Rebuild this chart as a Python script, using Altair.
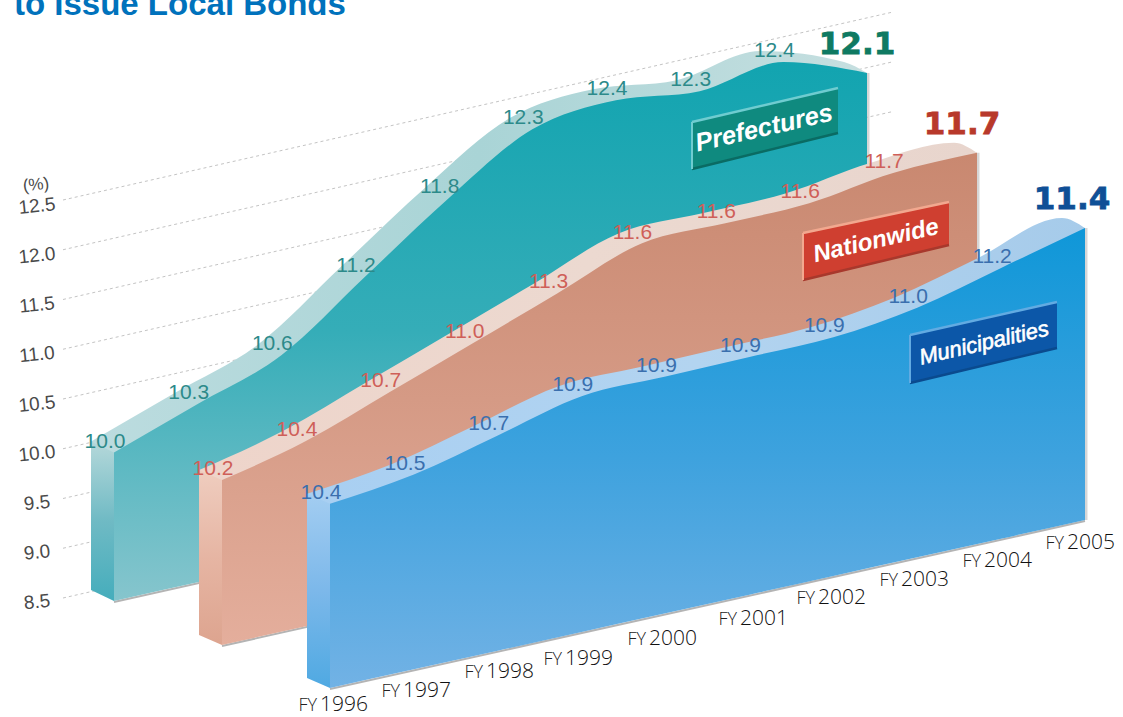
import altair as alt
import pandas as pd

# Fiscal years and the ratio series (%)
years = ["1996", "1997", "1998", "1999", "2000", "2001", "2002", "2003", "2004", "2005"]
prefectures = [10.0, 10.3, 10.6, 11.2, 11.8, 12.3, 12.4, 12.3, 12.4, 12.1]
nationwide = [10.2, 10.4, 10.7, 11.0, 11.3, 11.6, 11.6, 11.6, 11.7, 11.7]
municipalities = [10.4, 10.5, 10.7, 10.9, 10.9, 10.9, 10.9, 11.0, 11.2, 11.4]
y_ticks = [8.5, 9.0, 9.5, 10.0, 10.5, 11.0, 11.5, 12.0, 12.5]
title_text = "to Issue Local Bonds"
VALUE_FLOOR = 8.5

W, H = 1123, 717
XS = alt.Scale(domain=[0, W], range=[0, W], nice=False, zero=False)
YS = alt.Scale(domain=[0, H], range=[0, H], nice=False, zero=False)


def X(field="x"):
    return alt.X(f"{field}:Q", scale=XS, axis=None)


def Y(field="y"):
    return alt.Y(f"{field}:Q", scale=YS, axis=None)


def project(i, v, wall):
    """Oblique projection of (year index, value) onto a slanted wall."""
    t = i / 9
    x = wall["x"][0] + (wall["x"][1] - wall["x"][0]) * t
    base = wall["base"][0] + (wall["base"][1] - wall["base"][0]) * t
    k = wall["k"][0] + (wall["k"][1] - wall["k"][0]) * t
    return x, base, base - (v - VALUE_FLOOR) * k


def vgrad(*stops):
    n = len(stops) - 1
    return alt.LinearGradient(
        gradient="linear", x1=0, x2=0, y1=0, y2=1,
        stops=[alt.GradientStop(color=c, offset=j / n) for j, c in enumerate(stops)],
    )


def hgrad(*stops):
    n = len(stops) - 1
    return alt.LinearGradient(
        gradient="linear", x1=0, x2=1, y1=0, y2=0,
        stops=[alt.GradientStop(color=c, offset=j / n) for j, c in enumerate(stops)],
    )


GRID_WALL = {"x": (63, 893), "base": (598, 410), "k": (99.5, 99.5)}
TICK_WALL = {"x": (37, 37), "base": (602, 602), "k": (99, 99)}

SERIES = [
    dict(name="Prefectures", values=prefectures,
         wall={"x": (114, 867), "base": (601, 433), "k": (99, 100)},
         depth=(-23, -11),
         face=vgrad("#12a4b0", "#35adb8", "#86c5cd"),
         ridge=hgrad("#bcdcdf", "#a9d4d6", "#c6dfe0"),
         side=vgrad("#b5d8da", "#6fbac4", "#45adbc"),
         text="#2c8a8a", big="#0f7a62", big_off=(-10, -28),
         box=[(692, 838), (122, 88), (169, 133)], box_fill="#0f8a7f", box_edge="#6fccd0",
         box_dark="#0a6b63", weight="bold", size=25.5, outline=0, label_at=(764, 128)),
    dict(name="Nationwide", values=nationwide,
         wall={"x": (222, 977), "base": (645, 476), "k": (97, 101)},
         depth=(-23, -10),
         face=vgrad("#c98870", "#d59a85", "#e4ae9c"),
         ridge=hgrad("#eed4ca", "#ecd9d0", "#e8d5cd"),
         side=vgrad("#efcdbf", "#e6b5a3", "#dda48f"),
         text="#cf5f58", big="#b8392b", big_off=(-15, -28),
         box=[(803, 949), (233, 202), (280, 245)], box_fill="#cf3f30", box_edge="#f2a88f",
         box_dark="#a8382c", weight="bold", size=24, outline=0, label_at=(876, 241)),
    dict(name="Municipalities", values=municipalities,
         wall={"x": (330, 1085), "base": (688, 520), "k": (97, 100.7)},
         depth=(-23, -10),
         face=vgrad("#0f97d8", "#3ea2de", "#72b2e5"),
         ridge=hgrad("#a8cff2", "#b3d4f0", "#a6cbea"),
         side=vgrad("#a3cdf1", "#7cb8ea", "#4fa9e2"),
         text="#3a6fae", big="#0f4f96", big_off=(-13, -28),
         box=[(910, 1057), (335, 302), (383, 348)], box_fill="#0c57a8", box_edge="#62abe2",
         box_dark="#0a4a8e", weight="normal", size=22, outline=0.6, label_at=(984, 343)),
]

layers = []

# Dotted grid running back along the floor of the chart
for tick in y_ticks:
    pts = [project(i, tick, GRID_WALL) for i in (0, 9)]
    df = pd.DataFrame({"x": [p[0] for p in pts], "y": [p[2] for p in pts]})
    layers.append(
        alt.Chart(df).mark_line(color="#c4c4c4", strokeWidth=1, strokeDash=[3, 3]).encode(x=X(), y=Y())
    )

# Extruded walls, rear series first
for s in SERIES:
    dx, dy = s["depth"]
    pts = [project(i, v, s["wall"]) for i, v in enumerate(s["values"])]
    xs = [p[0] for p in pts]
    bases = [p[1] for p in pts]
    tops = [p[2] for p in pts]

    front = pd.DataFrame({"x": xs, "y": tops, "y2": bases})
    rear = pd.DataFrame({
        "x": [x + dx for x in xs] + [xs[-1]],
        "y": [y + dy for y in tops] + [tops[-1]],
        "y2": [b + dy for b in bases] + [bases[-1]],
    })
    side = pd.DataFrame({
        "x": [xs[0] + dx, xs[0]],
        "y": [tops[0] + dy, tops[0]],
        "y2": [bases[0] + dy, bases[0]],
    })
    shadow_right = pd.DataFrame({"x": [xs[-1] + 1, xs[-1] + 1], "y": [tops[-1], bases[-1]]})
    shadow_floor = pd.DataFrame({"x": [xs[0], xs[-1]], "y": [bases[0] + 1, bases[-1] + 1]})

    layers.append(alt.Chart(shadow_right).mark_line(color="#8a8a8a", strokeWidth=3, opacity=0.35).encode(x=X(), y=Y()))
    layers.append(alt.Chart(shadow_floor).mark_line(color="#777777", strokeWidth=2, opacity=0.55).encode(x=X(), y=Y()))
    layers.append(alt.Chart(rear).mark_area(color=s["ridge"], interpolate="monotone").encode(x=X(), y=Y(), y2="y2:Q"))
    layers.append(alt.Chart(side).mark_area(color=s["side"]).encode(x=X(), y=Y(), y2="y2:Q"))
    layers.append(alt.Chart(front).mark_area(color=s["face"], interpolate="monotone").encode(x=X(), y=Y(), y2="y2:Q"))

# Value labels on the ridges, with the final year in large type
for s in SERIES:
    pts = [project(i, v, s["wall"]) for i, v in enumerate(s["values"])]
    df = pd.DataFrame({
        "x": [p[0] - 9 for p in pts[:-1]],
        "y": [p[2] - 11 for p in pts[:-1]],
        "t": [f"{v:.1f}" for v in s["values"][:-1]],
    })
    layers.append(
        alt.Chart(df).mark_text(font="Liberation Sans", fontSize=21, color=s["text"], baseline="middle")
        .encode(x=X(), y=Y(), text="t:N")
    )
    last = pd.DataFrame({
        "x": [pts[-1][0] + s["big_off"][0]],
        "y": [pts[-1][2] + s["big_off"][1]],
        "t": [f'{s["values"][-1]:.1f}'],
    })
    layers.append(
        alt.Chart(last).mark_text(font="DejaVu Sans", fontWeight="bold", fontSize=31, color=s["big"],
                                  baseline="middle", stroke=s["big"], strokeWidth=0.8)
        .encode(x=X(), y=Y(), text="t:N")
    )

# Series name plates
for s in SERIES:
    xb, top, bottom = s["box"]
    plate = pd.DataFrame({"x": list(xb), "y": list(top), "y2": list(bottom)})
    edge = pd.DataFrame({"x": list(xb), "y": list(top)})
    left = pd.DataFrame({"x": [xb[0], xb[0]], "y": [top[0], bottom[0]]})
    under = pd.DataFrame({"x": list(xb), "y": list(bottom)})
    layers.append(alt.Chart(plate).mark_area(color=s["box_fill"]).encode(x=X(), y=Y(), y2="y2:Q"))
    layers.append(alt.Chart(under).mark_line(color=s["box_dark"], strokeWidth=2.5).encode(x=X(), y=Y()))
    layers.append(alt.Chart(edge).mark_line(color=s["box_edge"], strokeWidth=2.5).encode(x=X(), y=Y()))
    layers.append(alt.Chart(left).mark_line(color=s["box_edge"], strokeWidth=2).encode(x=X(), y=Y()))
    name = pd.DataFrame({"x": [s["label_at"][0]], "y": [s["label_at"][1]], "t": [s["name"]]})
    layers.append(
        alt.Chart(name).mark_text(font="Liberation Sans", fontStyle="italic", fontWeight=s["weight"], fontSize=s["size"],
                                  color="white", stroke="white", strokeWidth=s["outline"], angle=347, baseline="middle")
        .encode(x=X(), y=Y(), text="t:N")
    )

# Vertical scale labels
tick_df = pd.DataFrame({
    "x": [project(0, t, TICK_WALL)[0] for t in y_ticks],
    "y": [project(0, t, TICK_WALL)[2] for t in y_ticks],
    "t": [f"{t:.1f}" for t in y_ticks],
})
layers.append(
    alt.Chart(tick_df).mark_text(font="Liberation Sans", fontSize=19, color="#4a4a4a", angle=354, baseline="middle")
    .encode(x=X(), y=Y(), text="t:N")
)
unit = pd.DataFrame({"x": [36], "y": [185], "t": ["(%)"]})
layers.append(
    alt.Chart(unit).mark_text(font="Liberation Sans", fontSize=17, color="#4a4a4a", angle=354, baseline="middle")
    .encode(x=X(), y=Y(), text="t:N")
)

# Fiscal-year labels along the front edge
nudge = {0: (0, -4), 3: (-4, 5), 4: (-3, 4), 5: (5, 2)}
fy_x = [320 + i * 83 + nudge.get(i, (0, 0))[0] for i in range(len(years))]
fy_y = [715 - i * 18.5 + nudge.get(i, (0, 0))[1] for i in range(len(years))]
fy_df = pd.DataFrame({"x": fy_x, "y": fy_y, "year": years, "fy": ["FY"] * len(years)})
layers.append(
    alt.Chart(fy_df).mark_text(font="Open Sans", fontSize=21, fontWeight=300, color="#111111", align="left", baseline="alphabetic")
    .encode(x=X(), y=Y(), text="year:N")
)
layers.append(
    alt.Chart(fy_df).mark_text(font="Open Sans", fontSize=18, fontWeight=300, color="#222222", align="right", baseline="alphabetic", dx=-3)
    .encode(x=X(), y=Y(), text="fy:N")
)

# Heading, running off the top of the page
head = pd.DataFrame({"x": [14], "y": [15], "t": [title_text]})
layers.append(
    alt.Chart(head).mark_text(font="Liberation Sans", fontWeight="bold", fontSize=33, color="#0072bc",
                              align="left", baseline="alphabetic")
    .encode(x=X(), y=Y(), text="t:N")
)

chart = (
    alt.layer(*layers)
    .properties(width=W, height=H, padding=0, autosize=alt.AutoSizeParams(type="none"), background="white")
    .configure_view(stroke=None)
)
chart.save("out.html", embed_options={"renderer": "svg", "actions": False})
